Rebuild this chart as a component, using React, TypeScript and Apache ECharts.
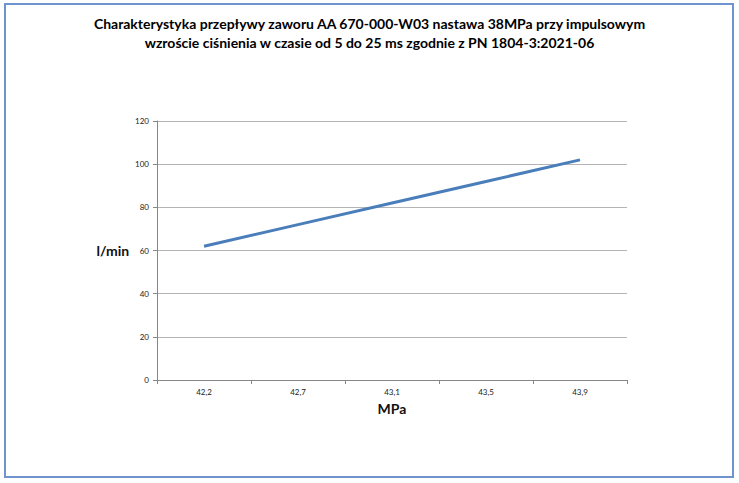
import React, { useEffect, useRef } from "react";
import * as echarts from "echarts";

const titleLines = [
  "Charakterystyka przepływy zaworu AA 670-000-W03 nastawa 38MPa przy impulsowym",
  "wzroście ciśnienia w czasie od 5 do 25 ms zgodnie z PN 1804-3:2021-06",
];
const categories = ["42,2", "42,7", "43,1", "43,5", "43,9"];
const flowValues = [62, 72, 82, 92, 102];
const xName = "MPa";
const yName = "l/min";

export default function App() {
  const ref = useRef<HTMLDivElement>(null);
  useEffect(() => {
    if (!ref.current) return;
    const chart = echarts.init(ref.current, null, { renderer: "svg" });
    const labelFont = "Lato, 'Open Sans', sans-serif";
    chart.setOption({
      animation: false,
      backgroundColor: "#ffffff",
      title: {
        text: titleLines.join("\n"),
        left: "center",
        top: 9,
        textStyle: {
          fontFamily: labelFont,
          fontWeight: "bold",
          fontSize: 14,
          lineHeight: 19,
          color: "#000",
        },
      },
      graphic: [
        {
          type: "rect",
          shape: { x: 5, y: 4, width: 728, height: 473 },
          style: { fill: "none", stroke: "#6f93cf", lineWidth: 2 },
        },
      ],
      grid: { left: 157, right: 112, top: 121, bottom: 103 },
      xAxis: {
        type: "category",
        data: categories,
        boundaryGap: true,
        axisLine: { lineStyle: { color: "#878787" } },
        axisTick: { show: true, length: 4, lineStyle: { color: "#878787" } },
        axisLabel: { fontSize: 8, color: "#222", margin: 8, fontFamily: labelFont },
        name: xName,
        nameLocation: "middle",
        nameGap: 21,
        nameTextStyle: { fontSize: 14, fontWeight: "bold", color: "#111", fontFamily: labelFont },
        splitLine: { show: false },
      },
      yAxis: {
        type: "value",
        min: 0,
        max: 120,
        interval: 20,
        axisLine: { show: true, lineStyle: { color: "#878787" } },
        axisTick: { show: true, length: 4, lineStyle: { color: "#878787" } },
        axisLabel: { fontSize: 8, color: "#222", margin: 8, fontFamily: labelFont },
        splitLine: { lineStyle: { color: "#b4b4b4" } },
        name: yName,
        nameLocation: "middle",
        nameRotate: 0,
        nameGap: 26,
        nameTextStyle: { fontSize: 14, fontWeight: "bold", color: "#111", fontFamily: labelFont },
      },
      series: [
        {
          type: "line",
          data: flowValues,
          showSymbol: false,
          symbol: "none",
          lineStyle: { color: "#4a7ebb", width: 3 },
        },
      ],
    });
    return () => chart.dispose();
  }, []);
  return (
    <div
      ref={ref}
      style={{ position: "fixed", left: 0, top: 0, width: 739, height: 483 }}
    />
  );
}
